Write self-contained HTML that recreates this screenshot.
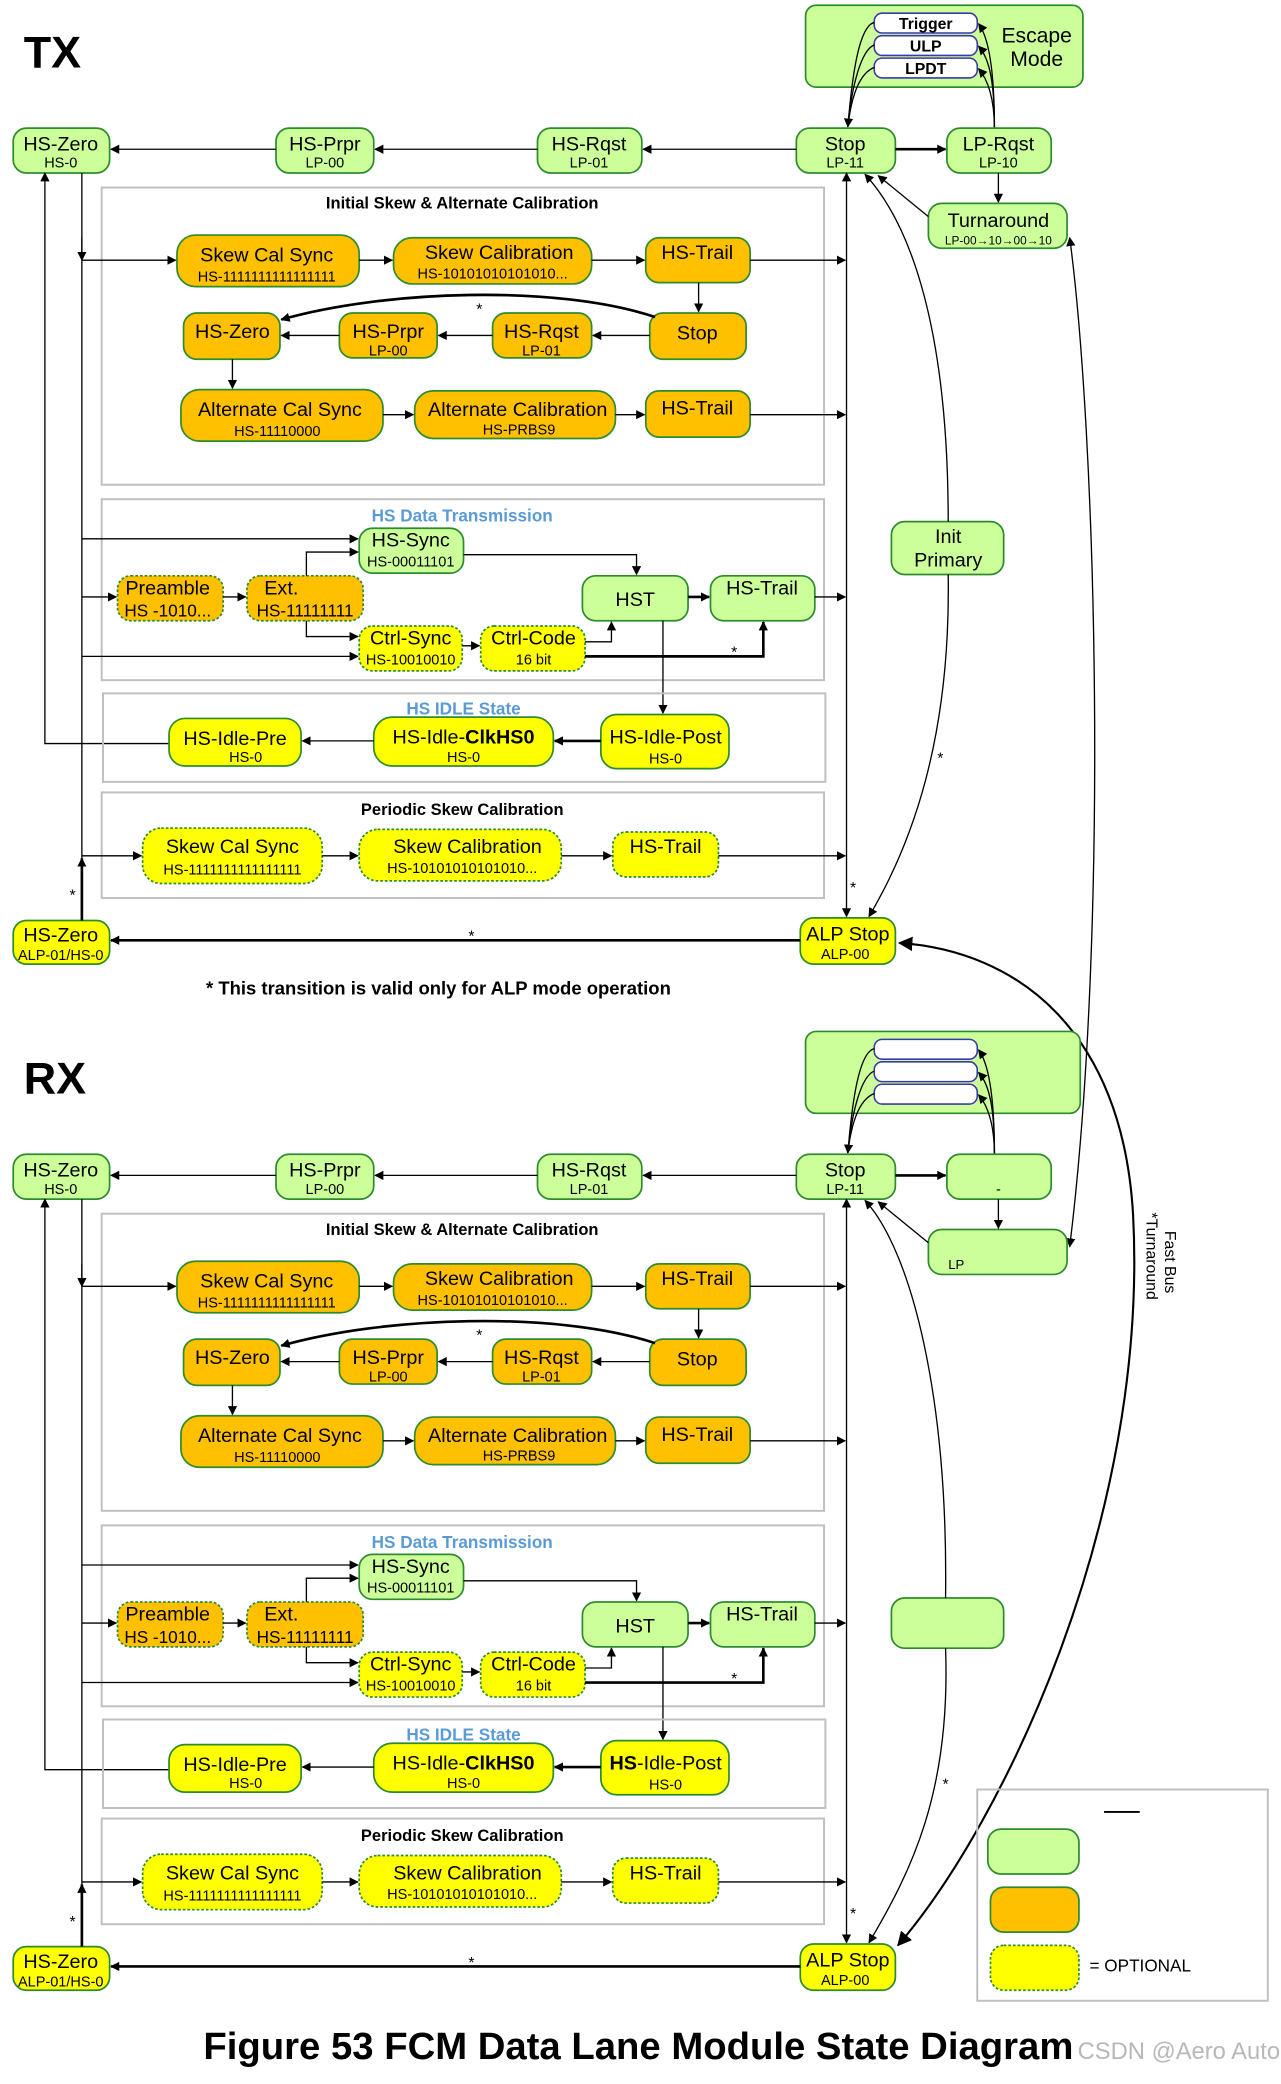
<!DOCTYPE html>
<html><head><meta charset="utf-8"><style>
html,body{margin:0;padding:0;background:#fff}
svg{display:block}
text{font-family:"Liberation Sans",Arial,sans-serif;fill:#000}
.g{fill:#ccff99;stroke:#2e8b2e;stroke-width:1.3}
.o{fill:#ffc000;stroke:#2e8b2e;stroke-width:1.3}
.y{fill:#ffff00;stroke:#2e8b2e;stroke-width:1.3}
.d{stroke-dasharray:2 1.5}
.w{fill:#fff;stroke:#3a3aa8;stroke-width:1.2}
.sec{fill:none;stroke:#c0c0c0;stroke-width:1.5}
.m{font-size:15px;text-anchor:middle}
.s{font-size:11px;text-anchor:middle}
.t{font-size:12.5px;font-weight:bold;text-anchor:middle}
.bt{font-size:13px;font-weight:bold;text-anchor:middle;fill:#5b9bd5}
.l{stroke:#000;fill:none;stroke-width:1}
.k{stroke:#000;fill:none;stroke-width:2}
.st{font-size:12px;text-anchor:middle}
</style></head><body>
<svg width="1281" height="2084" viewBox="0 0 970 1578" preserveAspectRatio="none" xmlns="http://www.w3.org/2000/svg">
<defs>
<marker id="a" viewBox="0 0 10 10" refX="9" refY="5" markerWidth="7" markerHeight="7" orient="auto-start-reverse" markerUnits="userSpaceOnUse"><path d="M0,0L10,5L0,10z" fill="#000"/></marker>
<marker id="b" viewBox="0 0 10 10" refX="9" refY="5" markerWidth="11" markerHeight="11" orient="auto-start-reverse" markerUnits="userSpaceOnUse"><path d="M0,0L10,5L0,10z" fill="#000"/></marker>
</defs>

<!-- ===================== TX ===================== -->
<g id="tx">
<text x="18" y="51" style="font-size:34px;font-weight:bold">TX</text>
<rect x="610" y="4" width="210" height="62" rx="8" class="g"/>
<rect x="662" y="10" width="78" height="15" rx="6" class="w"/><text x="701" y="22" style="font-size:12px;font-weight:bold;text-anchor:middle">Trigger</text>
<rect x="662" y="27" width="78" height="15" rx="6" class="w"/><text x="701" y="39" style="font-size:12px;font-weight:bold;text-anchor:middle">ULP</text>
<rect x="662" y="44" width="78" height="15" rx="6" class="w"/><text x="701" y="56" style="font-size:12px;font-weight:bold;text-anchor:middle">LPDT</text>
<text x="785" y="32" style="font-size:16px;text-anchor:middle">Escape</text>
<text x="785" y="50" style="font-size:16px;text-anchor:middle">Mode</text>
<path class="l" d="M662,17 C650,20 645,60 642,96" marker-end="url(#a)"/>
<path class="l" d="M662,34 C652,38 645,65 642,96"/>
<path class="l" d="M662,51 C652,55 645,70 642,96"/>
<path class="l" d="M753,97 C753,60 750,30 741,18" marker-end="url(#a)"/>
<path class="l" d="M753,97 C753,65 750,45 741,35" marker-end="url(#a)"/>
<path class="l" d="M753,97 C753,75 748,60 741,52" marker-end="url(#a)"/>

<!-- top row -->
<rect x="10" y="97" width="73" height="34" rx="10" class="g"/><text x="46" y="114" class="m">HS-Zero</text><text x="46" y="127" class="s">HS-0</text>
<rect x="209" y="97" width="74" height="34" rx="10" class="g"/><text x="246" y="114" class="m">HS-Prpr</text><text x="246" y="127" class="s">LP-00</text>
<rect x="407" y="97" width="79" height="34" rx="10" class="g"/><text x="446" y="114" class="m">HS-Rqst</text><text x="446" y="127" class="s">LP-01</text>
<rect x="603" y="97" width="75" height="34" rx="10" class="g"/><text x="640" y="114" class="m">Stop</text><text x="640" y="127" class="s">LP-11</text>
<rect x="717" y="97" width="79" height="34" rx="10" class="g"/><text x="756" y="114" class="m">LP-Rqst</text><text x="756" y="127" class="s">LP-10</text>
<rect x="703" y="154" width="105" height="34" rx="10" class="g"/><text x="756" y="172" class="m">Turnaround</text><text x="756" y="185" style="font-size:9px;text-anchor:middle">LP-00→10→00→10</text>
<path class="l" d="M603,113H487" marker-end="url(#a)"/>
<path class="l" d="M407,113H284" marker-end="url(#a)"/>
<path class="l" d="M209,113H84" marker-end="url(#a)"/>
<path class="k" d="M678,113H716" marker-end="url(#a)"/>
<path class="l" d="M756,131V153" marker-end="url(#a)"/>
<path class="l" d="M703,164L665,133" marker-end="url(#a)"/>
<rect x="675" y="395" width="85" height="40" rx="10" class="g"/><text x="718" y="411" class="m">Init</text><text x="718" y="429" class="m">Primary</text>
<path class="l" d="M718,395 C718,250 690,170 655,132" marker-end="url(#a)"/>
<path class="l" d="M718,435 C720,560 690,640 658,694" marker-end="url(#a)"/>
<text x="712" y="578" class="st">*</text>
<path class="l" d="M641,131V694" marker-start="url(#a)" marker-end="url(#a)"/>
<text x="646" y="676" class="st">*</text>
<!-- long turnaround link -->
<path class="l" d="M810,180 C830,330 840,700 810,944" marker-start="url(#a)" marker-end="url(#a)"/>

<!-- left verticals -->
<path class="l" d="M34,131V563H128" marker-start="url(#a)"/>
<path class="l" d="M62,131V650"/>
<path class="l" d="M62,180V197" marker-end="url(#a)"/>

<!-- Section: Initial Skew -->
<rect x="77" y="142" width="547" height="225" class="sec"/>
<text x="350" y="158" class="t">Initial Skew &amp; Alternate Calibration</text>
<rect x="134" y="178" width="138" height="39" rx="14" class="o"/><text x="202" y="198" class="m">Skew Cal Sync</text><text x="202" y="213" class="s">HS-1111111111111111</text>
<rect x="298" y="180" width="150" height="35" rx="14" class="o"/><text x="378" y="196" class="m">Skew Calibration</text><text x="373" y="211" class="s">HS-10101010101010...</text>
<rect x="489" y="180" width="79" height="34" rx="10" class="o"/><text x="528" y="196" class="m">HS-Trail</text>
<rect x="492" y="237" width="73" height="35" rx="10" class="o"/><text x="528" y="257" class="m">Stop</text>
<rect x="373" y="237" width="75" height="34" rx="10" class="o"/><text x="410" y="256" class="m">HS-Rqst</text><text x="410" y="269" class="s">LP-01</text>
<rect x="257" y="237" width="74" height="34" rx="10" class="o"/><text x="294" y="256" class="m">HS-Prpr</text><text x="294" y="269" class="s">LP-00</text>
<rect x="139" y="237" width="73" height="35" rx="10" class="o"/><text x="176" y="256" class="m">HS-Zero</text>
<rect x="137" y="295" width="153" height="39" rx="14" class="o"/><text x="212" y="315" class="m">Alternate Cal Sync</text><text x="210" y="330" class="s">HS-11110000</text>
<rect x="314" y="296" width="152" height="36" rx="14" class="o"/><text x="392" y="315" class="m">Alternate Calibration</text><text x="393" y="329" class="s">HS-PRBS9</text>
<rect x="489" y="296" width="79" height="35" rx="10" class="o"/><text x="528" y="314" class="m">HS-Trail</text>
<path class="l" d="M62,197H133" marker-end="url(#a)"/>
<path class="l" d="M272,197H297" marker-end="url(#a)"/>
<path class="l" d="M448,197H488" marker-end="url(#a)"/>
<path class="l" d="M568,197H640" marker-end="url(#a)"/>
<path class="l" d="M529,214V236" marker-end="url(#a)"/>
<path class="l" d="M492,254H449" marker-end="url(#a)"/>
<path class="l" d="M373,254H332" marker-end="url(#a)"/>
<path class="l" d="M257,254H213" marker-end="url(#a)"/>
<path class="k" d="M496,240 C420,215 290,220 213,242" marker-end="url(#a)"/>
<text x="363" y="238" class="st">*</text>
<path class="l" d="M176,272V294" marker-end="url(#a)"/>
<path class="l" d="M290,314H313" marker-end="url(#a)"/>
<path class="l" d="M466,314H488" marker-end="url(#a)"/>
<path class="l" d="M568,314H640" marker-end="url(#a)"/>

<!-- Section: HS Data Transmission -->
<rect x="77" y="378" width="547" height="137" class="sec"/>
<text x="350" y="395" class="bt">HS Data Transmission</text>
<rect x="272" y="400" width="79" height="34" rx="10" class="g"/><text x="311" y="414" class="m">HS-Sync</text><text x="311" y="429" class="s">HS-00011101</text>
<rect x="89" y="436" width="80" height="34" rx="10" class="o d"/><text x="127" y="450" class="m">Preamble</text><text x="127" y="467" style="font-size:13px;text-anchor:middle">HS -1010...</text>
<rect x="187" y="436" width="88" height="34" rx="10" class="o d"/><text x="213" y="450" class="m">Ext.</text><text x="231" y="467" style="font-size:13px;text-anchor:middle">HS-11111111</text>
<rect x="441" y="436" width="80" height="34" rx="10" class="g"/><text x="481" y="459" class="m">HST</text>
<rect x="538" y="436" width="79" height="34" rx="10" class="g"/><text x="577" y="450" class="m">HS-Trail</text>
<rect x="272" y="474" width="78" height="34" rx="10" class="y d"/><text x="311" y="488" class="m">Ctrl-Sync</text><text x="311" y="503" class="s">HS-10010010</text>
<rect x="364" y="474" width="79" height="34" rx="10" class="y d"/><text x="404" y="488" class="m">Ctrl-Code</text><text x="404" y="503" class="s">16 bit</text>
<path class="l" d="M62,408H271" marker-end="url(#a)"/>
<path class="l" d="M62,452H88" marker-end="url(#a)"/>
<path class="l" d="M169,452H186" marker-end="url(#a)"/>
<path class="l" d="M232,436V418H271" marker-end="url(#a)"/>
<path class="l" d="M232,470V482H271" marker-end="url(#a)"/>
<path class="l" d="M62,497H271" marker-end="url(#a)"/>
<path class="l" d="M350,489H363" marker-end="url(#a)"/>
<path class="l" d="M443,486H463V471" marker-end="url(#a)"/>
<path class="l" d="M351,420H482V435" marker-end="url(#a)"/>
<path class="k" d="M521,452H537" marker-end="url(#a)"/>
<path class="l" d="M617,452H640" marker-end="url(#a)"/>
<path class="k" d="M443,497H578V471" marker-end="url(#a)"/>
<text x="556" y="498" class="st">*</text>
<path class="l" d="M502,470V540" marker-end="url(#a)"/>

<!-- Section: HS IDLE -->
<rect x="78" y="525" width="547" height="67" class="sec"/>
<text x="351" y="541" class="bt">HS IDLE State</text>
<rect x="128" y="544" width="100" height="36" rx="12" class="y"/><text x="178" y="564" class="m">HS-Idle-Pre</text><text x="186" y="577" class="s">HS-0</text>
<rect x="283" y="543" width="136" height="37" rx="14" class="y"/><text x="351" y="563" class="m">HS-Idle-<tspan font-weight="bold">ClkHS0</tspan></text><text x="351" y="577" class="s">HS-0</text>
<rect x="455" y="541" width="97" height="41" rx="12" class="y"/><text x="504" y="563" class="m">HS-Idle-Post</text><text x="504" y="578" class="s">HS-0</text>
<path class="k" d="M455,561H420" marker-end="url(#a)"/>
<path class="l" d="M283,561H229" marker-end="url(#a)"/>

<!-- Section: Periodic -->
<rect x="77" y="600" width="547" height="80" class="sec"/>
<text x="350" y="617" class="t">Periodic Skew Calibration</text>
<rect x="108" y="627" width="136" height="42" rx="14" class="y d"/><text x="176" y="646" class="m">Skew Cal Sync</text><text x="176" y="662" class="s">HS-1111111111111111</text>
<rect x="272" y="628" width="153" height="39" rx="14" class="y d"/><text x="354" y="646" class="m">Skew Calibration</text><text x="350" y="661" class="s">HS-10101010101010...</text>
<rect x="464" y="630" width="80" height="34" rx="10" class="y d"/><text x="504" y="646" class="m">HS-Trail</text>
<path class="l" d="M62,648H107" marker-end="url(#a)"/>
<path class="l" d="M244,648H271" marker-end="url(#a)"/>
<path class="l" d="M425,648H463" marker-end="url(#a)"/>
<path class="l" d="M544,648H640" marker-end="url(#a)"/>

<!-- ALP row -->
<rect x="10" y="697" width="73" height="33" rx="10" class="y"/><text x="46" y="713" class="m">HS-Zero</text><text x="46" y="727" class="s">ALP-01/HS-0</text>
<rect x="606" y="695" width="72" height="35" rx="10" class="y"/><text x="642" y="712" class="m">ALP Stop</text><text x="640" y="726" class="s">ALP-00</text>
<path class="k" d="M62,697V650" marker-end="url(#a)"/>
<text x="55" y="682" class="st">*</text>
<path class="k" d="M606,712H84" marker-end="url(#a)"/>
<text x="357" y="713" class="st">*</text>
<text x="156" y="753" style="font-size:14px;font-weight:bold">* This transition is valid only for ALP mode operation</text>
</g>

<!-- big fast bus turnaround curve -->
<path class="k" d="M680,1473 C760,1380 870,1150 858,920 C850,780 770,720 681,714" marker-start="url(#b)" marker-end="url(#b)" style="stroke-width:1.6"/>
<text transform="translate(868,918) rotate(90)" style="font-size:12px">*Turnaround</text>
<text transform="translate(882,932) rotate(90)" style="font-size:12px">Fast Bus</text>

<!-- ===================== RX ===================== -->
<g transform="translate(0,777)">
<text x="18" y="51" style="font-size:34px;font-weight:bold">RX</text>
<rect x="610" y="4" width="208" height="62" rx="8" class="g"/>
<rect x="662" y="10" width="78" height="15" rx="6" class="w"/>
<rect x="662" y="27" width="78" height="15" rx="6" class="w"/>
<rect x="662" y="44" width="78" height="15" rx="6" class="w"/>
<path class="l" d="M662,17 C650,20 645,60 642,96" marker-end="url(#a)"/>
<path class="l" d="M662,34 C652,38 645,65 642,96"/>
<path class="l" d="M662,51 C652,55 645,70 642,96"/>
<path class="l" d="M753,97 C753,60 750,30 741,18" marker-end="url(#a)"/>
<path class="l" d="M753,97 C753,65 750,45 741,35" marker-end="url(#a)"/>
<path class="l" d="M753,97 C753,75 748,60 741,52" marker-end="url(#a)"/>

<rect x="10" y="97" width="73" height="34" rx="10" class="g"/><text x="46" y="114" class="m">HS-Zero</text><text x="46" y="127" class="s">HS-0</text>
<rect x="209" y="97" width="74" height="34" rx="10" class="g"/><text x="246" y="114" class="m">HS-Prpr</text><text x="246" y="127" class="s">LP-00</text>
<rect x="407" y="97" width="79" height="34" rx="10" class="g"/><text x="446" y="114" class="m">HS-Rqst</text><text x="446" y="127" class="s">LP-01</text>
<rect x="603" y="97" width="75" height="34" rx="10" class="g"/><text x="640" y="114" class="m">Stop</text><text x="640" y="127" class="s">LP-11</text>
<rect x="717" y="97" width="79" height="34" rx="10" class="g"/><text x="756" y="127" class="s">-</text>
<rect x="703" y="154" width="105" height="34" rx="10" class="g"/><text x="718" y="184" style="font-size:10px">LP</text>
<path class="l" d="M603,113H487" marker-end="url(#a)"/>
<path class="l" d="M407,113H284" marker-end="url(#a)"/>
<path class="l" d="M209,113H84" marker-end="url(#a)"/>
<path class="k" d="M678,113H716" marker-end="url(#a)"/>
<path class="l" d="M756,131V153" marker-end="url(#a)"/>
<path class="l" d="M703,164L665,133" marker-end="url(#a)"/>
<rect x="675" y="433" width="85" height="38" rx="10" class="g"/>
<path class="l" d="M716,433 C718,280 690,170 655,132" marker-end="url(#a)"/>
<path class="l" d="M716,471 C720,580 690,640 658,694" marker-end="url(#a)"/>
<text x="716" y="578" class="st">*</text>
<path class="l" d="M641,131V694" marker-start="url(#a)" marker-end="url(#a)"/>
<text x="646" y="676" class="st">*</text>

<path class="l" d="M34,131V563H128" marker-start="url(#a)"/>
<path class="l" d="M62,131V650"/>
<path class="l" d="M62,180V197" marker-end="url(#a)"/>

<rect x="77" y="142" width="547" height="225" class="sec"/>
<text x="350" y="158" class="t">Initial Skew &amp; Alternate Calibration</text>
<rect x="134" y="178" width="138" height="39" rx="14" class="o"/><text x="202" y="198" class="m">Skew Cal Sync</text><text x="202" y="213" class="s">HS-1111111111111111</text>
<rect x="298" y="180" width="150" height="35" rx="14" class="o"/><text x="378" y="196" class="m">Skew Calibration</text><text x="373" y="211" class="s">HS-10101010101010...</text>
<rect x="489" y="180" width="79" height="34" rx="10" class="o"/><text x="528" y="196" class="m">HS-Trail</text>
<rect x="492" y="237" width="73" height="35" rx="10" class="o"/><text x="528" y="257" class="m">Stop</text>
<rect x="373" y="237" width="75" height="34" rx="10" class="o"/><text x="410" y="256" class="m">HS-Rqst</text><text x="410" y="269" class="s">LP-01</text>
<rect x="257" y="237" width="74" height="34" rx="10" class="o"/><text x="294" y="256" class="m">HS-Prpr</text><text x="294" y="269" class="s">LP-00</text>
<rect x="139" y="237" width="73" height="35" rx="10" class="o"/><text x="176" y="256" class="m">HS-Zero</text>
<rect x="137" y="295" width="153" height="39" rx="14" class="o"/><text x="212" y="315" class="m">Alternate Cal Sync</text><text x="210" y="330" class="s">HS-11110000</text>
<rect x="314" y="296" width="152" height="36" rx="14" class="o"/><text x="392" y="315" class="m">Alternate Calibration</text><text x="393" y="329" class="s">HS-PRBS9</text>
<rect x="489" y="296" width="79" height="35" rx="10" class="o"/><text x="528" y="314" class="m">HS-Trail</text>
<path class="l" d="M62,197H133" marker-end="url(#a)"/>
<path class="l" d="M272,197H297" marker-end="url(#a)"/>
<path class="l" d="M448,197H488" marker-end="url(#a)"/>
<path class="l" d="M568,197H640" marker-end="url(#a)"/>
<path class="l" d="M529,214V236" marker-end="url(#a)"/>
<path class="l" d="M492,254H449" marker-end="url(#a)"/>
<path class="l" d="M373,254H332" marker-end="url(#a)"/>
<path class="l" d="M257,254H213" marker-end="url(#a)"/>
<path class="k" d="M496,240 C420,215 290,220 213,242" marker-end="url(#a)"/>
<text x="363" y="238" class="st">*</text>
<path class="l" d="M176,272V294" marker-end="url(#a)"/>
<path class="l" d="M290,314H313" marker-end="url(#a)"/>
<path class="l" d="M466,314H488" marker-end="url(#a)"/>
<path class="l" d="M568,314H640" marker-end="url(#a)"/>

<rect x="77" y="378" width="547" height="137" class="sec"/>
<text x="350" y="395" class="bt">HS Data Transmission</text>
<rect x="272" y="400" width="79" height="34" rx="10" class="g"/><text x="311" y="414" class="m">HS-Sync</text><text x="311" y="429" class="s">HS-00011101</text>
<rect x="89" y="436" width="80" height="34" rx="10" class="o d"/><text x="127" y="450" class="m">Preamble</text><text x="127" y="467" style="font-size:13px;text-anchor:middle">HS -1010...</text>
<rect x="187" y="436" width="88" height="34" rx="10" class="o d"/><text x="213" y="450" class="m">Ext.</text><text x="231" y="467" style="font-size:13px;text-anchor:middle">HS-11111111</text>
<rect x="441" y="436" width="80" height="34" rx="10" class="g"/><text x="481" y="459" class="m">HST</text>
<rect x="538" y="436" width="79" height="34" rx="10" class="g"/><text x="577" y="450" class="m">HS-Trail</text>
<rect x="272" y="474" width="78" height="34" rx="10" class="y d"/><text x="311" y="488" class="m">Ctrl-Sync</text><text x="311" y="503" class="s">HS-10010010</text>
<rect x="364" y="474" width="79" height="34" rx="10" class="y d"/><text x="404" y="488" class="m">Ctrl-Code</text><text x="404" y="503" class="s">16 bit</text>
<path class="l" d="M62,408H271" marker-end="url(#a)"/>
<path class="l" d="M62,452H88" marker-end="url(#a)"/>
<path class="l" d="M169,452H186" marker-end="url(#a)"/>
<path class="l" d="M232,436V418H271" marker-end="url(#a)"/>
<path class="l" d="M232,470V482H271" marker-end="url(#a)"/>
<path class="l" d="M62,497H271" marker-end="url(#a)"/>
<path class="l" d="M350,489H363" marker-end="url(#a)"/>
<path class="l" d="M443,486H463V471" marker-end="url(#a)"/>
<path class="l" d="M351,420H482V435" marker-end="url(#a)"/>
<path class="k" d="M521,452H537" marker-end="url(#a)"/>
<path class="l" d="M617,452H640" marker-end="url(#a)"/>
<path class="k" d="M443,497H578V471" marker-end="url(#a)"/>
<text x="556" y="498" class="st">*</text>
<path class="l" d="M502,470V540" marker-end="url(#a)"/>

<rect x="78" y="525" width="547" height="67" class="sec"/>
<text x="351" y="541" class="bt">HS IDLE State</text>
<rect x="128" y="544" width="100" height="36" rx="12" class="y"/><text x="178" y="564" class="m">HS-Idle-Pre</text><text x="186" y="577" class="s">HS-0</text>
<rect x="283" y="543" width="136" height="37" rx="14" class="y"/><text x="351" y="563" class="m">HS-Idle-<tspan font-weight="bold">ClkHS0</tspan></text><text x="351" y="577" class="s">HS-0</text>
<rect x="455" y="541" width="97" height="41" rx="12" class="y"/><text x="504" y="563" class="m"><tspan font-weight="bold">HS</tspan>-Idle-Post</text><text x="504" y="578" class="s">HS-0</text>
<path class="k" d="M455,561H420" marker-end="url(#a)"/>
<path class="l" d="M283,561H229" marker-end="url(#a)"/>

<rect x="77" y="600" width="547" height="80" class="sec"/>
<text x="350" y="617" class="t">Periodic Skew Calibration</text>
<rect x="108" y="627" width="136" height="42" rx="14" class="y d"/><text x="176" y="646" class="m">Skew Cal Sync</text><text x="176" y="662" class="s">HS-1111111111111111</text>
<rect x="272" y="628" width="153" height="39" rx="14" class="y d"/><text x="354" y="646" class="m">Skew Calibration</text><text x="350" y="661" class="s">HS-10101010101010...</text>
<rect x="464" y="630" width="80" height="34" rx="10" class="y d"/><text x="504" y="646" class="m">HS-Trail</text>
<path class="l" d="M62,648H107" marker-end="url(#a)"/>
<path class="l" d="M244,648H271" marker-end="url(#a)"/>
<path class="l" d="M425,648H463" marker-end="url(#a)"/>
<path class="l" d="M544,648H640" marker-end="url(#a)"/>

<rect x="10" y="697" width="73" height="33" rx="10" class="y"/><text x="46" y="713" class="m">HS-Zero</text><text x="46" y="727" class="s">ALP-01/HS-0</text>
<rect x="606" y="695" width="72" height="35" rx="10" class="y"/><text x="642" y="712" class="m">ALP Stop</text><text x="640" y="726" class="s">ALP-00</text>
<path class="k" d="M62,697V650" marker-end="url(#a)"/>
<text x="55" y="682" class="st">*</text>
<path class="k" d="M606,712H84" marker-end="url(#a)"/>
<text x="357" y="713" class="st">*</text>
</g>

<!-- legend -->
<rect x="740" y="1355" width="220" height="160" style="fill:none;stroke:#c0c0c0;stroke-width:1.5"/>
<path d="M836,1372H863" style="stroke:#000;stroke-width:1.5"/>
<rect x="748" y="1385" width="69" height="34" rx="10" class="g"/>
<rect x="750" y="1429" width="67" height="34" rx="10" class="o"/>
<rect x="750" y="1473" width="67" height="34" rx="10" class="y d"/>
<text x="825" y="1493" style="font-size:13px">= OPTIONAL</text>

<text x="154" y="1559" style="font-size:29px;font-weight:bold">Figure 53 FCM Data Lane Module State Diagram</text>
<text x="816" y="1559" style="font-size:18px;fill:#b8b8b8">CSDN @Aero Auto</text>
</svg>
</body></html>
